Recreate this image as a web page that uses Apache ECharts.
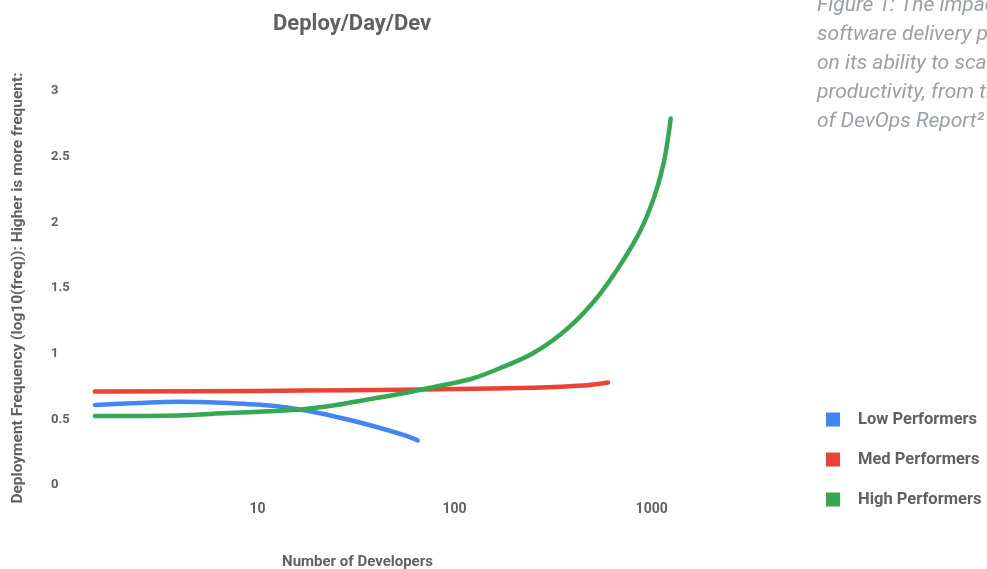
<!DOCTYPE html>
<html>
<head>
<meta charset="utf-8">
<script src="https://cdn.jsdelivr.net/npm/echarts@6/dist/echarts.min.js"></script>
<style>
html,body{margin:0;padding:0;background:#fff;}
#chart{width:987px;height:569px;}
</style>
</head>
<body>
<div id="chart"></div>
<script>
// ---- data ----
const seriesNames = ['Low Performers', 'Med Performers', 'High Performers'];
const seriesColors = ['#4285F4', '#EA4335', '#34A853'];

const lowX = [1.5, 2.5, 4, 6.5, 11.5, 17, 25, 37, 55, 65];
const lowY = [0.61, 0.625, 0.634, 0.626, 0.605, 0.571, 0.52, 0.457, 0.381, 0.34];

const medX = [1.5, 10, 30, 100, 250, 450, 600];
const medY = [0.711, 0.716, 0.722, 0.731, 0.741, 0.757, 0.78];

const highX = [1.5, 4, 7, 11.5, 17, 25, 37, 55, 80, 120, 170, 250, 375, 550, 810, 990, 1150, 1250];
const highY = [0.526, 0.53, 0.548, 0.562, 0.577, 0.609, 0.653, 0.698, 0.749, 0.805, 0.889, 1.003, 1.193, 1.46, 1.841, 2.12, 2.45, 2.79];

const xTickLabels = [10, 100, 1000];

const titleText = 'Deploy/Day/Dev';
const xAxisTitle = 'Number of Developers';
const yAxisTitle = 'Deployment Frequency (log10(freq)): Higher is more frequent:';
const captionLines = [
  "Figure 1: The impact of an organization's",
  'software delivery performance',
  'on its ability to scale developer',
  'productivity, from the 2015 State',
  'of DevOps Report\u00B2'
];

// ---- build ----
function pairs(xs, ys) { return xs.map((x, i) => [x, ys[i]]); }
const allX = [lowX, medX, highX];
const allY = [lowY, medY, highY];

const FONT = 'Roboto, "Noto Sans", sans-serif';
const GRAY = '#616161';

const chart = echarts.init(document.getElementById('chart'), null, {renderer: 'canvas'});
chart.setOption({
  animation: false,
  backgroundColor: '#ffffff',
  title: {
    text: titleText,
    left: 273,
    top: 13,
    padding: 0,
    textStyle: {fontFamily: FONT, fontSize: 22, fontWeight: 'bold', color: GRAY}
  },
  legend: {
    orient: 'vertical',
    left: 826,
    top: 411,
    padding: 0,
    icon: 'rect',
    itemWidth: 14,
    itemHeight: 14,
    itemGap: 23,
    data: seriesNames,
    textStyle: {fontFamily: FONT, fontSize: 16.5, fontWeight: 'bold', color: GRAY, lineHeight: 14, padding: [0, 0, 0, 13]}
  },
  grid: {left: 95, top: 91, bottom: 84, right: 276, containLabel: false, outerBoundsMode: 'none'},
  xAxis: {
    type: 'log',
    logBase: 10,
    min: 1.5,
    max: 2000,
    name: xAxisTitle,
    nameLocation: 'middle',
    nameGap: 70,
    nameTextStyle: {fontFamily: FONT, fontSize: 15, fontWeight: 'bold', color: GRAY, padding: [0, 91, 0, 0]},
    axisLine: {show: false},
    axisTick: {show: false},
    splitLine: {show: false},
    minorTick: {show: false},
    axisLabel: {
      margin: 17,
      fontFamily: FONT, fontSize: 14, fontWeight: 'bold', color: GRAY,
      formatter: function (v) {
        const r = Math.round(v);
        return xTickLabels.indexOf(r) >= 0 && Math.abs(v - r) < 1e-6 ? String(r) : '';
      }
    }
  },
  yAxis: {
    type: 'value',
    min: 0,
    max: 3,
    interval: 0.5,
    name: yAxisTitle,
    nameLocation: 'middle',
    nameGap: 69,
    nameTextStyle: {fontFamily: FONT, fontSize: 15.5, fontWeight: 'bold', color: GRAY},
    axisLine: {show: false},
    axisTick: {show: false},
    splitLine: {show: false},
    axisLabel: {
      margin: 44,
      align: 'left',
      padding: [4, 0, 0, 0],
      fontFamily: FONT, fontSize: 13, fontWeight: 'bold', color: GRAY
    }
  },
  graphic: [{
    type: 'text',
    x: 817,
    y: -9,
    silent: true,
    style: {
      text: captionLines.join('\n'),
      fontFamily: FONT,
      fontSize: 21,
      fontStyle: 'italic',
      lineHeight: 29,
      fill: '#9aa0a6'
    }
  }],
  series: seriesNames.map((name, i) => ({
    name: name,
    type: 'line',
    data: pairs(allX[i], allY[i]),
    smooth: 0.3,
    symbol: 'none',
    color: seriesColors[i],
    lineStyle: {width: 4.5, color: seriesColors[i], cap: 'round', join: 'round'},
    z: i === 1 ? 2 : (i === 0 ? 3 : 4)
  }))
});
</script>
</body>
</html>
